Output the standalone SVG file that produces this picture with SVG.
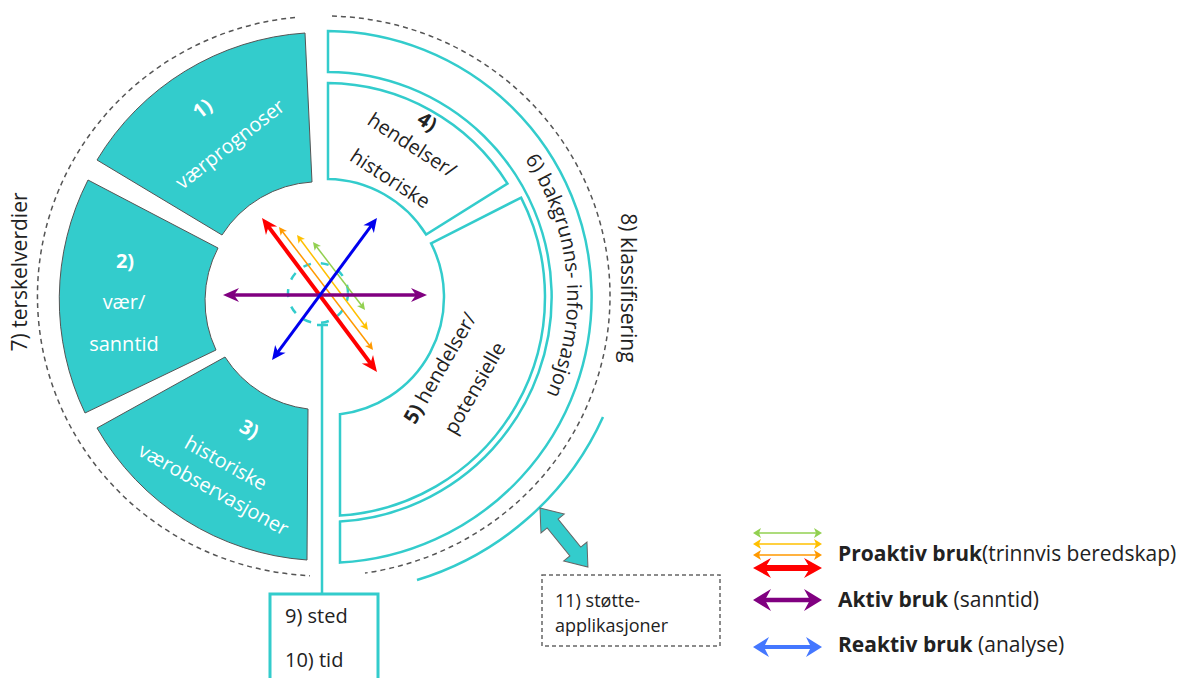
<svg xmlns="http://www.w3.org/2000/svg" width="1189" height="678" viewBox="0 0 1189 678">
<style>
.seg{fill:#33CCCC;stroke:#555;stroke-width:1}
.rs{fill:#fff;stroke:#33CCCC;stroke-width:2.5}
.tl{fill:none;stroke:#33CCCC;stroke-width:2.5}
.dash{fill:none;stroke:#555;stroke-width:1.5;stroke-dasharray:5 4}
.t{font-family:"Open Sans","DejaVu Sans",sans-serif;font-size:20px;fill:#222}
.w{fill:#fff}
.b{font-weight:bold}
.m{text-anchor:middle}
</style>
<defs>
<marker id="cR" viewBox="-17 -8 18 16" markerUnits="userSpaceOnUse" markerWidth="18" markerHeight="16" refX="-8" refY="0" orient="auto-start-reverse"><path d="M0,0 L-16,-7 L-11,0 L-16,7Z" fill="#FF0000"/></marker>
<marker id="cP" viewBox="-17 -8 18 16" markerUnits="userSpaceOnUse" markerWidth="18" markerHeight="16" refX="-8" refY="0" orient="auto-start-reverse"><path d="M0,0 L-16,-7 L-11,0 L-16,7Z" fill="#800080"/></marker>
<marker id="cB" viewBox="-15 -7 16 14" markerUnits="userSpaceOnUse" markerWidth="16" markerHeight="14" refX="-7" refY="0" orient="auto-start-reverse"><path d="M0,0 L-14,-6.5 L-10,0 L-14,6.5Z" fill="#0000EE"/></marker>
<marker id="cO" viewBox="-9 -5 10 10" markerUnits="userSpaceOnUse" markerWidth="10" markerHeight="10" refX="-4" refY="0" orient="auto-start-reverse"><path d="M0,0 L-8,-4 L-6,0 L-8,4Z" fill="#FF9900"/></marker>
<marker id="cY" viewBox="-9 -5 10 10" markerUnits="userSpaceOnUse" markerWidth="10" markerHeight="10" refX="-4" refY="0" orient="auto-start-reverse"><path d="M0,0 L-8,-4 L-6,0 L-8,4Z" fill="#FFC000"/></marker>
<marker id="cG" viewBox="-9 -5 10 10" markerUnits="userSpaceOnUse" markerWidth="10" markerHeight="10" refX="-4" refY="0" orient="auto-start-reverse"><path d="M0,0 L-8,-4 L-6,0 L-8,4Z" fill="#92D050"/></marker>
<marker id="lR" viewBox="-19 -11 20 22" markerUnits="userSpaceOnUse" markerWidth="20" markerHeight="22" refX="-9" refY="0" orient="auto-start-reverse"><path d="M0,0 L-18,-10 L-12,0 L-18,10Z" fill="#FF0000"/></marker>
<marker id="lP" viewBox="-19 -12 20 24" markerUnits="userSpaceOnUse" markerWidth="20" markerHeight="24" refX="-9" refY="0" orient="auto-start-reverse"><path d="M0,0 L-18,-11 L-12,0 L-18,11Z" fill="#800080"/></marker>
<marker id="lB" viewBox="-17 -11 18 22" markerUnits="userSpaceOnUse" markerWidth="18" markerHeight="22" refX="-8" refY="0" orient="auto-start-reverse"><path d="M0,0 L-16,-10 L-11,0 L-16,10Z" fill="#4477FF"/></marker>
<marker id="lO" viewBox="-9 -6 10 12" markerUnits="userSpaceOnUse" markerWidth="10" markerHeight="12" refX="-4" refY="0" orient="auto-start-reverse"><path d="M0,0 L-8,-5 L-6,0 L-8,5Z" fill="#FF9900"/></marker>
<marker id="lY" viewBox="-9 -6 10 12" markerUnits="userSpaceOnUse" markerWidth="10" markerHeight="12" refX="-4" refY="0" orient="auto-start-reverse"><path d="M0,0 L-8,-5 L-6,0 L-8,5Z" fill="#FFC000"/></marker>
<marker id="lG" viewBox="-9 -6 10 12" markerUnits="userSpaceOnUse" markerWidth="10" markerHeight="12" refX="-4" refY="0" orient="auto-start-reverse"><path d="M0,0 L-8,-5 L-6,0 L-8,5Z" fill="#92D050"/></marker>
<path id="p6" d="M493.6,122.3 A242,242 0 0 1 522.6,436.2"/>
</defs>
<rect width="1189" height="678" fill="#fff"/>

<g id="outer-dashed">
<path class="dash" d="M295,17.4 A286,280 0 0 0 310,575.7"/>
<path class="dash" d="M332,16 A286,280 0 0 1 365,573"/>
</g>

<g id="n1">
<path class="seg" d="M97,160 A263,263 0 0 1 305,33 L312,182 A115,115 0 0 0 222,235 Z"/>
<g transform="translate(230,144) rotate(-38)">
<text class="t w b m" x="0" y="-38">1)</text>
<text class="t w m" x="0" y="7">værprognoser</text>
</g>
</g>
<g id="n2">
<path class="seg" d="M88,180 A263,263 0 0 0 85,413 L216,350 A115,115 0 0 1 218,248 Z"/>
<text class="t w b m" x="125" y="268">2)</text>
<text class="t w m" x="124" y="309">vær/</text>
<text class="t w m" x="124" y="351">sanntid</text>
</g>
<g id="n3">
<path class="seg" d="M97,428 A263,263 0 0 0 307,560 L308,409 A115,115 0 0 1 225,357 Z"/>
<g transform="translate(226,463) rotate(29)">
<text class="t w b m" x="4" y="-34">3)</text>
<text class="t w m" x="0" y="7">historiske</text>
<text class="t w m" x="2" y="36">værobservasjoner</text>
</g>
</g>
<g id="n6">
<path class="rs" d="M328,31 A266,266 0 0 1 340,562.6 L340,521.6 A225,225 0 0 0 328,72 Z"/>
<text class="t m"><textPath href="#p6" startOffset="50%">6) bakgrunns- informasjon</textPath></text>
</g>
<g id="n4">
<path class="rs" d="M328,83 L328,179 A118,118 0 0 1 426.1,234.5 L507.5,183.6 A214,214 0 0 0 328,83 Z"/>
<g transform="translate(412,145) rotate(33)">
<text class="t b m" x="0" y="-21">4)</text>
<text class="t m" x="0" y="7">hendelser/</text>
<text class="t m" x="0" y="47">historiske</text>
</g>
</g>
<g id="n5">
<path class="rs" d="M431.1,243.4 L521.1,197.6 A219,219 0 0 1 340,515.6 L340,414.2 A118,118 0 0 0 431.1,243.4 Z"/>
<g transform="translate(440,368) rotate(-60)">
<text class="t m" x="0" y="7"><tspan class="b">5)</tspan> hendelser/</text>
<text class="t m" x="0" y="47">potensielle</text>
</g>
</g>
<g id="n8">
<path class="tl" d="M603,417 A300,300 0 0 1 417,580"/>
<text class="t m" transform="translate(621,288) rotate(90)" style="font-size:21px">8) klassifisering</text>
</g>
<g id="n7">
<text class="t m" transform="translate(27,272) rotate(-90)" style="font-size:21px">7) terskelverdier</text>
</g>
<g id="n9">
<rect x="270" y="594" width="108" height="100" fill="#fff" stroke="#33CCCC" stroke-width="3"/>
<text class="t" x="285" y="623">9) sted</text>
<text class="t" x="285" y="667">10) tid</text>
</g>
<g id="n11">
<rect x="542" y="575" width="178" height="71" fill="#fff" stroke="#666" stroke-width="1.5" stroke-dasharray="4 3"/>
<text class="t" x="555" y="607" style="font-size:18px">11) støtte-</text>
<text class="t" x="555" y="632" style="font-size:18px">applikasjoner</text>
</g>

<g id="connectors">
<circle cx="318" cy="293" r="30" fill="none" stroke="#33CCCC" stroke-width="2.5" stroke-dasharray="8 10"/>
<path d="M317,325 H328 M322,325 V594" fill="none" stroke="#33CCCC" stroke-width="2.5"/>
<line x1="315.4" y1="245.2" x2="362.6" y2="306.8" stroke="#92D050" stroke-width="1.5" marker-start="url(#cG)" marker-end="url(#cG)"/>
<line x1="299.4" y1="238.2" x2="365.6" y2="326.8" stroke="#FFC000" stroke-width="1.5" marker-start="url(#cY)" marker-end="url(#cY)"/>
<line x1="281.4" y1="230.2" x2="370.6" y2="346.8" stroke="#FF9900" stroke-width="1.5" marker-start="url(#cO)" marker-end="url(#cO)"/>
<line x1="266.8" y1="224.4" x2="372.2" y2="365.6" stroke="#FF0000" stroke-width="4" marker-start="url(#cR)" marker-end="url(#cR)"/>
<line x1="231" y1="295" x2="419" y2="295" stroke="#800080" stroke-width="3.5" marker-start="url(#cP)" marker-end="url(#cP)"/>
<line x1="372.8" y1="223.6" x2="276.2" y2="354.4" stroke="#0000EE" stroke-width="3" marker-start="url(#cB)" marker-end="url(#cB)"/>
<polygon points="0,0 20,-15 20,-7 56,-7 56,-15 76,0 56,15 56,7 20,7 20,15" transform="translate(540,508) rotate(50.9)" fill="#33CCCC" stroke="#666" stroke-width="1"/>
</g>

<g id="legend">
<line x1="757" y1="533" x2="818" y2="533" stroke="#92D050" stroke-width="1.5" marker-start="url(#lG)" marker-end="url(#lG)"/>
<line x1="757" y1="544" x2="818" y2="544" stroke="#FFC000" stroke-width="1.5" marker-start="url(#lY)" marker-end="url(#lY)"/>
<line x1="757" y1="555" x2="818" y2="555" stroke="#FF9900" stroke-width="1.5" marker-start="url(#lO)" marker-end="url(#lO)"/>
<line x1="762" y1="568" x2="813" y2="568" stroke="#FF0000" stroke-width="6" marker-start="url(#lR)" marker-end="url(#lR)"/>
<line x1="762" y1="600" x2="813" y2="600" stroke="#800080" stroke-width="4.5" marker-start="url(#lP)" marker-end="url(#lP)"/>
<line x1="761" y1="647" x2="814" y2="647" stroke="#4477FF" stroke-width="4" marker-start="url(#lB)" marker-end="url(#lB)"/>
<text class="t" x="838" y="561" style="font-size:21px"><tspan class="b">Proaktiv bruk</tspan>(trinnvis beredskap)</text>
<text class="t" x="838" y="607" style="font-size:21px"><tspan class="b">Aktiv bruk</tspan> (sanntid)</text>
<text class="t" x="838" y="652" style="font-size:21px"><tspan class="b">Reaktiv bruk</tspan> (analyse)</text>
</g>
</svg>
